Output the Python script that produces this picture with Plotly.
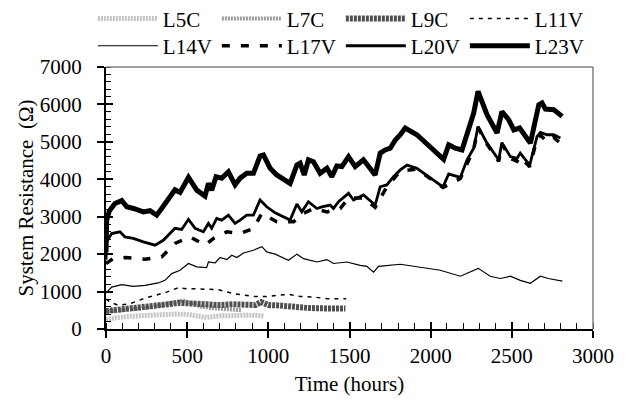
import plotly.graph_objects as go

# ---- measured series: time (hours) vs. system resistance (ohm) ----
l5c_t = [0, 60, 150, 250, 350, 430, 500, 560, 620, 700, 800, 900, 970]
l5c_v = [250, 300, 340, 370, 380, 400, 390, 340, 310, 350, 370, 370, 350]

l7c_t = [0, 100, 200, 300, 380, 430, 470, 520, 580, 650, 720, 790, 837]
l7c_v = [470, 500, 540, 600, 680, 740, 760, 700, 600, 560, 540, 520, 500]

l9c_t = [0, 50, 100, 150, 230, 300, 380, 450, 500, 560, 620, 700, 780, 850,
         920, 955, 1000, 1060, 1120, 1160, 1250, 1350, 1475]
l9c_v = [480, 500, 510, 540, 590, 620, 660, 700, 690, 650, 670, 640, 660, 650,
         640, 720, 640, 630, 610, 560, 560, 550, 550]

l11v_t = [0, 25, 76, 148, 230, 302, 374, 446, 497, 549, 620, 692, 785, 847,
          908, 990, 1073, 1124, 1196, 1278, 1361, 1453, 1480]
l11v_v = [800, 720, 630, 675, 810, 900, 985, 1105, 1075, 1075, 1060, 1050, 945,
          900, 870, 870, 900, 925, 870, 855, 810, 810, 810]

l14v_t = [0, 35, 97, 168, 240, 322, 363, 405, 456, 508, 559, 620, 631, 672,
          703, 744, 775, 806, 847, 908, 960, 990, 1042, 1124, 1176, 1217, 1299,
          1361, 1401, 1484, 1566, 1607, 1648, 1679, 1813, 1936, 2059, 2183,
          2244, 2293, 2367, 2429, 2491, 2552, 2614, 2676, 2725, 2811]
l14v_v = [960, 1120, 1185, 1140, 1165, 1230, 1300, 1480, 1570, 1750, 1660, 1640,
          1790, 1765, 1910, 1855, 1970, 1910, 2030, 2105, 2200, 2060, 2000, 1835,
          2000, 1880, 1790, 1855, 1750, 1790, 1700, 1675, 1520, 1675, 1730, 1650,
          1570, 1410, 1520, 1620, 1410, 1350, 1410, 1300, 1220, 1410, 1350, 1280]

l17v_t = [0, 45, 117, 240, 343, 425, 518, 610, 662, 744, 826, 908, 960, 1052,
          1155, 1217, 1278, 1361, 1443, 1494, 1586, 1658, 1730, 1813, 1915,
          2076, 2183, 2265, 2292, 2347, 2419, 2439, 2491, 2532, 2552, 2610,
          2655, 2676, 2717, 2758, 2799]
l17v_v = [1750, 1880, 1910, 1865, 1925, 2285, 2460, 2240, 2420, 2595, 2550,
          2685, 3090, 2865, 2865, 3090, 3220, 3130, 3220, 3500, 3500, 3250,
          3800, 4220, 4270, 3780, 4020, 4800, 5380, 4940, 4480, 4940, 4560,
          4480, 4600, 4330, 5080, 5180, 5000, 5120, 4960]

l20v_t = [0, 4, 35, 86, 117, 168, 230, 302, 353, 425, 466, 508, 549, 600, 631,
          651, 682, 713, 754, 795, 826, 867, 908, 949, 990, 1042, 1134, 1176,
          1206, 1247, 1299, 1330, 1381, 1401, 1432, 1494, 1525, 1586, 1658,
          1689, 1730, 1771, 1813, 1854, 1915, 2076, 2111, 2183, 2224, 2265,
          2292, 2347, 2419, 2439, 2491, 2532, 2552, 2610, 2655, 2676, 2717,
          2758, 2799]
l20v_v = [1850, 2330, 2550, 2595, 2460, 2420, 2330, 2240, 2370, 2690, 2660,
          2930, 2690, 2600, 2820, 2690, 2955, 2910, 3040, 2820, 2910, 3040,
          3040, 3445, 3265, 3105, 2910, 3340, 3130, 3400, 3220, 3265, 3310,
          3220, 3400, 3625, 3445, 3580, 3310, 3800, 3850, 4070, 4250, 4380,
          4295, 3800, 4140, 4050, 4520, 4830, 5410, 4965, 4520, 4980, 4605,
          4560, 4700, 4380, 5140, 5250, 5190, 5190, 5100]

l23v_t = [0, 4, 20, 55, 97, 128, 170, 230, 271, 312, 343, 380, 425, 456, 508,
          559, 610, 631, 651, 678, 713, 754, 795, 826, 867, 908, 949, 970, 1011,
          1052, 1134, 1176, 1196, 1221, 1247, 1278, 1319, 1361, 1391, 1422,
          1453, 1494, 1535, 1586, 1658, 1689, 1720, 1751, 1782, 1813, 1843,
          1915, 2080, 2111, 2152, 2193, 2234, 2265, 2292, 2347, 2409, 2439,
          2481, 2512, 2548, 2573, 2614, 2666, 2686, 2707, 2758, 2810]
l23v_v = [2050, 2900, 3150, 3355, 3430, 3265, 3220, 3130, 3160, 3040, 3220,
          3450, 3720, 3650, 4050, 3710, 3550, 3890, 3710, 4070, 4030, 4200,
          3850, 4030, 4160, 4160, 4620, 4650, 4295, 4115, 3890, 4380, 4430,
          4115, 4520, 4470, 4160, 4295, 4070, 4355, 4340, 4605, 4340, 4520,
          4115, 4700, 4785, 4830, 5050, 5190, 5370, 5190, 4535, 4920, 4830,
          4785, 5410, 5770, 6350, 5725, 5235, 5810, 5590, 5320, 5370, 5235,
          4965, 5990, 6040, 5875, 5860, 5680]

# name, x, y, line style, legend row
series = [
    ("L5C", l5c_t, l5c_v, dict(color="#c4c4c4", width=5, dash="2px,1px"), "legend"),
    ("L7C", l7c_t, l7c_v, dict(color="#9a9a9a", width=4, dash="2px,1px"), "legend"),
    ("L9C", l9c_t, l9c_v, dict(color="#505050", width=6, dash="3px,1px"), "legend"),
    ("L11V", l11v_t, l11v_v, dict(color="black", width=1.5, dash="4px,5px"), "legend"),
    ("L14V", l14v_t, l14v_v, dict(color="black", width=1.2), "legend2"),
    ("L17V", l17v_t, l17v_v, dict(color="black", width=3.5, dash="8px,11px"), "legend2"),
    ("L20V", l20v_t, l20v_v, dict(color="black", width=2.8), "legend2"),
    ("L23V", l23v_t, l23v_v, dict(color="black", width=5), "legend2"),
]

FONT = "Liberation Serif, Times New Roman, serif"

fig = go.Figure()
for name, t, v, line, leg in series:
    fig.add_trace(go.Scatter(x=t, y=v, mode="lines", name=name, line=line, legend=leg))

# empty trace so the overlay axes (inner halves of the major ticks) get drawn
fig.add_trace(go.Scatter(x=[None], y=[None], xaxis="x2", yaxis="y2",
                         showlegend=False, hoverinfo="skip"))

axis_common = dict(showgrid=False, zeroline=False, color="black",
                   tickfont=dict(family=FONT, size=21, color="black"))

legend_common = dict(
    orientation="h", x=-0.027, xanchor="left", yanchor="top",
    font=dict(family=FONT, size=21, color="black"),
    itemwidth=60, entrywidth=49, entrywidthmode="pixels",
    bgcolor="rgba(0,0,0,0)", traceorder="normal",
)

fig.update_layout(
    width=626, height=401,
    margin=dict(l=106, r=33, t=67, b=72, autoexpand=False),
    paper_bgcolor="white", plot_bgcolor="white",
    font=dict(family=FONT, size=21, color="black"),
    xaxis=dict(
        range=[0, 3000], dtick=500, tick0=0,
        ticks="outside", ticklen=7, tickwidth=1.5, tickcolor="black",
        showline=True, linecolor="black", linewidth=2,
        minor=dict(dtick=100, tick0=0, ticks="inside", ticklen=6, tickwidth=1.3,
                   tickcolor="black", showgrid=False),
        ticklabelstandoff=0,
        title=dict(text="Time (hours)", font=dict(family=FONT, size=21), standoff=9),
        **axis_common,
    ),
    yaxis=dict(
        range=[0, 7000], dtick=1000, tick0=0,
        ticks="outside", ticklen=7, tickwidth=1.5, tickcolor="black",
        showline=True, linecolor="black", linewidth=2,
        minor=dict(dtick=200, tick0=0, ticks="inside", ticklen=5, tickwidth=1.3,
                   tickcolor="black", showgrid=False),
        ticklabelstandoff=11,
        title=dict(text="System Resistance  (Ω)", font=dict(family=FONT, size=21), standoff=0),
        **axis_common,
    ),
    # inner halves of the major ticks
    xaxis2=dict(overlaying="x", anchor="y2", side="bottom", range=[0, 3000], dtick=500,
                tick0=0, ticks="inside", ticklen=7, tickwidth=1.5, tickcolor="black",
                showticklabels=False, showgrid=False, zeroline=False, showline=False),
    yaxis2=dict(overlaying="y", anchor="x2", side="left", range=[0, 7000], dtick=1000,
                tick0=0, ticks="inside", ticklen=7, tickwidth=1.5, tickcolor="black",
                showticklabels=False, showgrid=False, zeroline=False, showline=False),
    legend=dict(y=1.262, **legend_common),
    legend2=dict(y=1.158, **legend_common),
    shapes=[
        dict(type="line", xref="paper", yref="paper", x0=0, x1=1, y0=1, y1=1,
             line=dict(color="#808080", width=1.5)),
        dict(type="line", xref="paper", yref="paper", x0=1, x1=1, y0=0, y1=1,
             line=dict(color="#808080", width=1.5)),
    ],
)

fig.write_html("out.html")
